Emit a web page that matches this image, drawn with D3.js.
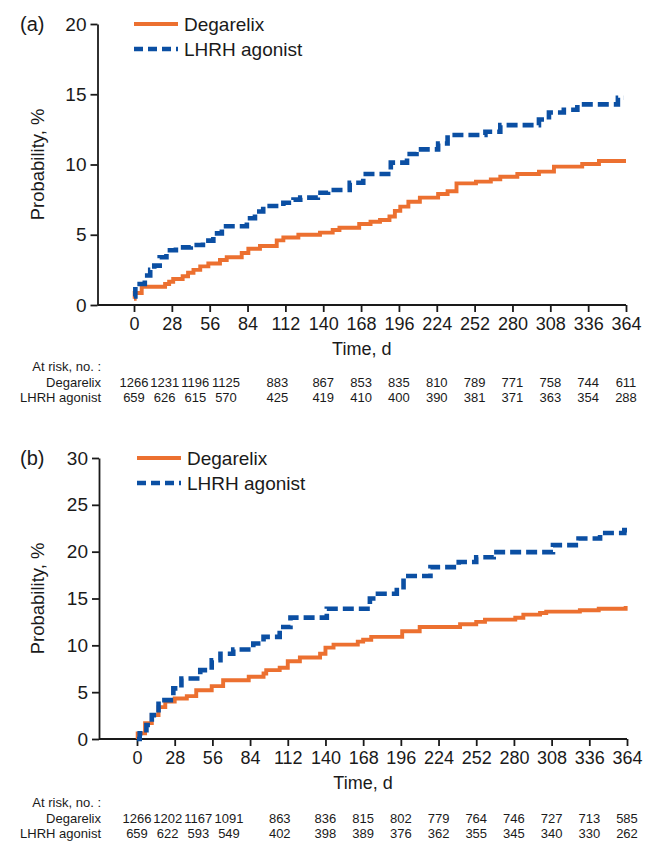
<!DOCTYPE html>
<html>
<head>
<meta charset="utf-8">
<script src="https://cdn.jsdelivr.net/npm/d3@7"></script>
<style>
  body { margin: 0; background: #fff; }
  svg { display: block; font-family: Arial, "Liberation Sans", sans-serif; }
</style>
</head>
<body>
<svg id="chart"></svg>
<script>
const dayTicks = [0, 28, 56, 84, 112, 140, 168, 196, 224, 252, 280, 308, 336, 364];
const seriesNames = ['Degarelix', 'LHRH agonist'];

// panel (a)
const aYTicks = [0, 5, 10, 15, 20];
const aDegDays = [0, 0.5, 5.7, 23, 26, 29, 36, 40, 44, 49, 55, 63.6, 68.6, 79.7, 84.6, 93.2, 105.6, 110.5, 121.6, 137.6,
    147, 152, 166.6, 175, 182, 189, 193, 197, 203, 211.5, 225, 232, 238.6, 253, 264, 271, 283.6, 299.6, 310.7, 331.6, 344, 364];
const aDegProb = [0.45, 0.85, 1.3, 1.5, 1.65, 1.85, 2.05, 2.3, 2.5, 2.75, 2.95, 3.2, 3.4, 3.7, 4.0, 4.2, 4.6, 4.8, 5.0, 5.15,
    5.34, 5.5, 5.77, 5.93, 6.05, 6.3, 6.7, 7.0, 7.35, 7.64, 7.9, 8.1, 8.66, 8.78, 8.94, 9.13, 9.32, 9.49, 9.85, 10.04, 10.25, 10.25];
const aLhrhDays = [0, 1, 8, 12, 15, 19, 24, 31, 42, 51, 58.7, 65, 83.5, 89.5, 95.6, 110.5, 118, 123, 136, 143.6,
    159.6, 169.6, 190, 202, 209, 225, 232, 260, 271, 299.6, 307, 318, 328, 358, 362];
const aLhrhProb = [0.6, 1.5, 2.1, 2.5, 2.8, 3.4, 3.9, 4.1, 4.27, 4.58, 5.1, 5.6, 6.17, 6.65, 7.05, 7.28, 7.5, 7.64, 7.99, 8.18,
    8.7, 9.32, 10.13, 10.75, 11.08, 11.5, 12.1, 12.33, 12.8, 13.2, 13.7, 13.9, 14.28, 14.75, 14.75];
const aRiskDeg = [1266, 1231, 1196, 1125, 883, 867, 853, 835, 810, 789, 771, 758, 744, 611];
const aRiskLhrh = [659, 626, 615, 570, 425, 419, 410, 400, 390, 381, 371, 363, 354, 288];

// panel (b)
const bYTicks = [0, 5, 10, 15, 20, 25, 30];
const bDegDays = [0, 0.5, 6, 11, 16, 21, 28, 37, 44, 55.5, 64, 83, 94, 96, 106, 112, 121, 136, 140, 146,
    164, 168, 174, 197, 210, 240, 252, 258.5, 281, 287, 299.4, 304, 329, 343, 363];
const bDegProb = [0, 0.6, 1.7, 2.55, 3.4, 4.0, 4.33, 4.58, 5.2, 5.64, 6.28, 6.64, 7.0, 7.35, 7.6, 8.3, 8.7, 9.1, 9.76, 10.08,
    10.4, 10.6, 10.9, 11.5, 11.96, 12.25, 12.5, 12.74, 12.95, 13.28, 13.45, 13.6, 13.74, 13.9, 14.2];
const bLhrhDays = [0, 2, 7, 11, 16, 27, 33, 47, 55.5, 62, 71.5, 86.4, 94, 106, 114, 141, 173, 179, 193, 198,
    218, 239, 252, 265, 309, 328, 344, 362, 364];
const bLhrhProb = [0, 0.6, 1.5, 2.55, 4.15, 5.4, 6.46, 7.35, 8.4, 9.1, 9.55, 10.2, 10.9, 11.96, 12.96, 13.9, 15.0, 15.5, 16.2, 17.4,
    18.35, 18.9, 19.4, 19.95, 20.7, 21.4, 22.0, 22.3, 22.3];
const bRiskDeg = [1266, 1202, 1167, 1091, 863, 836, 815, 802, 779, 764, 746, 727, 713, 585];
const bRiskLhrh = [659, 622, 593, 549, 402, 398, 389, 376, 362, 355, 345, 340, 330, 262];

const orange = '#ec7030';
const blue = '#0b4fa3';
const ink = '#1a1a1a';

const svg = d3.select('#chart')
    .attr('width', 646)
    .attr('height', 841);

function drawPanel(p) {
    const x = d3.scaleLinear().domain([0, 364]).range([p.x0, p.x1]);
    const y = d3.scaleLinear().domain([0, p.yTicks[p.yTicks.length - 1]]).range([p.y0, p.y1]);
    const g = svg.append('g');

    // y axis
    const yAxis = g.append('g')
        .attr('transform', `translate(${p.axisX},0)`)
        .call(d3.axisLeft(y).tickValues(p.yTicks).tickSize(7).tickSizeOuter(0).tickPadding(4));
    yAxis.attr('font-size', 19).attr('font-family', null).attr('color', ink);
    yAxis.selectAll('path, line').attr('stroke-width', 1.8);

    // x axis, its line runs from the y axis to day 364
    const xAxis = g.append('g')
        .attr('transform', `translate(0,${p.y0})`)
        .call(d3.axisBottom(x).tickValues(dayTicks).tickSize(7).tickSizeOuter(0).tickPadding(5));
    xAxis.attr('font-size', 18).attr('font-family', null).attr('color', ink);
    xAxis.select('.domain').attr('d', `M${p.axisX},0H${p.x1}`);
    xAxis.selectAll('path, line').attr('stroke-width', 1.8);

    const line = d3.line()
        .x(d => x(d[0]))
        .y(d => y(d[1]))
        .curve(d3.curveStepAfter);

    g.append('path')
        .attr('d', line(d3.zip(p.degDays, p.degProb)))
        .attr('fill', 'none')
        .attr('stroke', orange)
        .attr('stroke-width', 3.9);

    g.append('path')
        .attr('d', line(d3.zip(p.lhrhDays, p.lhrhProb)))
        .attr('fill', 'none')
        .attr('stroke', blue)
        .attr('stroke-width', 4.6)
        .attr('stroke-dasharray', '11,5');

    // legend
    const legend = g.selectAll('.legend').data(seriesNames)
        .join('g')
        .attr('transform', (d, i) => `translate(${x(0)},${p.y1 + i * 25})`);
    legend.append('line')
        .attr('x1', 0)
        .attr('x2', 44)
        .attr('stroke', (d, i) => i === 0 ? orange : blue)
        .attr('stroke-width', (d, i) => i === 0 ? 3.9 : 4.6)
        .attr('stroke-dasharray', (d, i) => i === 0 ? null : '9,5');
    legend.append('text')
        .attr('x', 50)
        .attr('dy', '0.35em')
        .attr('font-size', 19)
        .attr('fill', ink)
        .text(d => d);

    g.append('text')
        .attr('x', 20)
        .attr('y', p.y1)
        .attr('dy', '0.35em')
        .attr('font-size', 20)
        .attr('fill', ink)
        .text(p.label);

    g.append('text')
        .attr('transform', `translate(38,${(p.y0 + p.y1) / 2}) rotate(-90)`)
        .attr('dy', '0.35em')
        .attr('text-anchor', 'middle')
        .attr('font-size', 18.5)
        .attr('fill', ink)
        .text('Probability, %');

    g.append('text')
        .attr('x', (p.axisX + p.x1) / 2)
        .attr('y', p.y0 + 50)
        .attr('text-anchor', 'middle')
        .attr('font-size', 18)
        .attr('fill', ink)
        .text('Time, d');

    // at-risk table: the first columns are packed tighter than the ticks
    const col = d3.scaleLinear()
        .domain([0, 3, 4, 5, 13])
        .range([x(0), x(0) + 92, x(112) - 8, x(140), x(364)]);

    const rows = [
        { name: 'At risk, no. :', values: [] },
        { name: seriesNames[0], values: p.riskDeg },
        { name: seriesNames[1], values: p.riskLhrh }
    ];
    const table = g.selectAll('.row').data(rows)
        .join('g')
        .attr('transform', (d, i) => `translate(0,${p.y0 + p.tableGap + i * 15.5})`)
        .attr('font-size', 13)
        .attr('fill', ink);
    table.append('text')
        .attr('x', 101)
        .attr('text-anchor', 'end')
        .text(d => d.name);
    table.selectAll('.n').data(d => d.values)
        .join('text')
        .attr('x', (d, i) => col(i))
        .attr('text-anchor', 'middle')
        .text(d => d);
}

drawPanel({
    label: '(a)', axisX: 97.5, x0: 134, x1: 626, y0: 305, y1: 24, yTicks: aYTicks, tableGap: 66,
    degDays: aDegDays, degProb: aDegProb, lhrhDays: aLhrhDays, lhrhProb: aLhrhProb,
    riskDeg: aRiskDeg, riskLhrh: aRiskLhrh
});

drawPanel({
    label: '(b)', axisX: 99, x0: 137, x1: 627, y0: 739, y1: 458, yTicks: bYTicks, tableGap: 68,
    degDays: bDegDays, degProb: bDegProb, lhrhDays: bLhrhDays, lhrhProb: bLhrhProb,
    riskDeg: bRiskDeg, riskLhrh: bRiskLhrh
});
</script>
</body>
</html>
